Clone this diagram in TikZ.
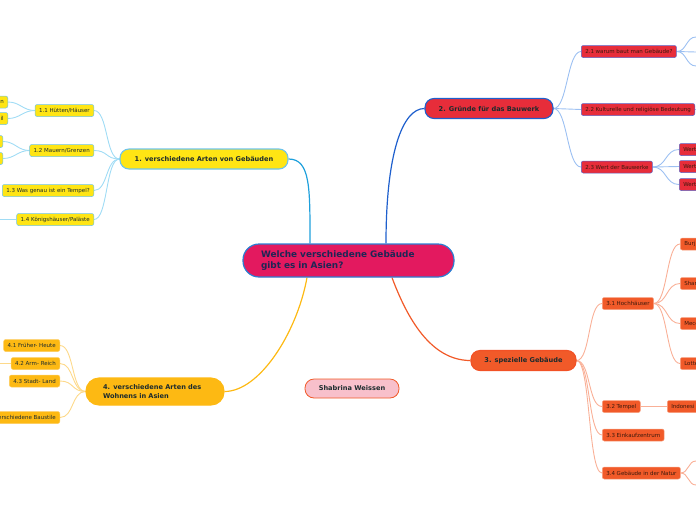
\documentclass[tikz,border=0pt]{standalone}
\usepackage{fontspec}
\setmainfont{DejaVu Sans}
\usetikzlibrary{calc, backgrounds}
\definecolor{rootpink}{RGB}{227,25,95}
\definecolor{rootline}{RGB}{45,125,210}
\definecolor{rootink}{RGB}{30,38,85}
\definecolor{yel}{RGB}{255,229,20}
\definecolor{yelline}{RGB}{110,196,234}
\definecolor{redtopic}{RGB}{231,45,58}
\definecolor{redline}{RGB}{30,95,205}
\definecolor{redsub}{RGB}{90,100,200}
\definecolor{orng}{RGB}{241,90,41}
\definecolor{orngsub}{RGB}{248,160,128}
\definecolor{amber}{RGB}{253,185,19}
\definecolor{ambersub}{RGB}{253,205,95}
\definecolor{pinkbox}{RGB}{248,192,203}
\definecolor{darkink}{RGB}{28,43,45}
\definecolor{brownink}{RGB}{60,25,12}
\definecolor{lblue}{RGB}{160,220,245}
\definecolor{lblue2}{RGB}{156,192,242}
\definecolor{lorng}{RGB}{249,176,151}
\definecolor{lamber}{RGB}{253,217,138}
\definecolor{midblue}{RGB}{30,160,220}

\begin{document}
\begin{tikzpicture}[x=1pt, y=-1pt,
  root/.style={draw=rootline, line width=1.2pt, fill=rootpink, rounded corners=16pt,
    minimum height=33pt, inner xsep=18pt, text width=175pt, align=left,
    text=rootink, font=\fontsize{8.9}{10.8}\selectfont\bfseries},
  topic/.style={line width=1.1pt, rounded corners=9pt, minimum height=20pt,
    font=\fontsize{6.6}{8.2}\selectfont\bfseries, text=darkink},
  sub/.style={line width=0.5pt, rounded corners=2pt, minimum height=12pt, inner xsep=4pt,
    inner ysep=1pt, font=\fontsize{5.5}{6.5}\selectfont},
  sub1/.style={sub, draw=yelline, fill=yel, text=darkink},
  sub2/.style={sub, draw=redsub, fill=redtopic, text=brownink},
  sub3/.style={sub, draw=orngsub, fill=orng, text=brownink},
  sub4/.style={sub, draw=ambersub, fill=amber, text=darkink},
  br1/.style={midblue, line width=1.2pt},
  br2/.style={redline, line width=1.2pt},
  br3/.style={orng, line width=1.2pt},
  br4/.style={amber, line width=1.2pt},
  twig1/.style={lblue, line width=0.9pt},
  twig2/.style={lblue2, line width=0.9pt},
  twig3/.style={lorng, line width=0.9pt},
  twig4/.style={lamber, line width=0.9pt}]
  \useasboundingbox (0,0) rectangle (696,520);
  \clip (0,0) rectangle (696,520);

  % centre and main topics
  \node[root] (root) at (348.5,260.5) {Welche verschiedene Gebäude\\gibt es in Asien?};
  \node[topic, draw=yelline, fill=yel, minimum width=168pt] (t1) at (204,159) {1. verschiedene Arten von Gebäuden};
  \node[topic, draw=redline, fill=redtopic, minimum width=128pt] (t2) at (489,108.5) {2. Gründe für das Bauwerk};
  \node[topic, draw=orng!90!red, fill=orng, minimum width=105pt] (t3) at (523.5,360.5) {3. spezielle Gebäude};
  \node[topic, draw=amber, fill=amber, rounded corners=13pt, minimum height=27pt, inner xsep=17pt,
    text width=104pt, align=left] (t4) at (155,391.5) {4. verschiedene Arten des\\Wohnens in Asien};
  \node[topic, draw=orng, fill=pinkbox, line width=0.8pt, minimum width=94pt, minimum height=19pt] (sw) at (352,388.5) {Shabrina Weissen};

  % 1
  \node[sub1, anchor=east] (s11) at (94,110.5) {1.1 Hütten/Häuser};
  \node[sub1, anchor=east] (s12) at (94,150.5) {1.2 Mauern/Grenzen};
  \node[sub1, anchor=east] (s13) at (94,190.5) {1.3 Was genau ist ein Tempel?};
  \node[sub1, anchor=east] (s14) at (94,219.5) {1.4 Königshäuser/Paläste};
  \node[sub1, anchor=east, text width=26pt, align=right] (s111) at (8,102) {en};
  \node[sub1, anchor=east, text width=26pt, align=right] (s112) at (8,118.5) {il};
  \node[sub1, anchor=east, text width=26pt] (s121) at (3,141.5) {};
  \node[sub1, anchor=east, text width=26pt] (s122) at (3,158.5) {};
  \coordinate (e14) at (0,219.5);

  % 2
  \node[sub2, anchor=west] (s21) at (581,51.5) {2.1 warum baut man Gebäude?};
  \node[sub2, anchor=west] (s22) at (581,109.5) {2.2 Kulturelle und religiöse Bedeutung};
  \node[sub2, anchor=west] (s23) at (581,167) {2.3 Wert der Bauwerke};
  \node[sub2, anchor=west, text width=30pt, align=left] (s231) at (679,149.5) {Wert};
  \node[sub2, anchor=west, text width=30pt, align=left] (s232) at (679,166.5) {Wert};
  \node[sub2, anchor=west, text width=30pt, align=left] (s233) at (679,184.5) {Wert};
  \coordinate (e211) at (696,37);
  \coordinate (e212) at (696,52);
  \coordinate (e213) at (696,66);
  \coordinate (e22) at (696,109.5);

  % 3
  \node[sub3, anchor=west] (s31) at (602,303.5) {3.1 Hochhäuser};
  \node[sub3, anchor=west] (s32) at (602,406.5) {3.2 Tempel};
  \node[sub3, anchor=west] (s33) at (602,435) {3.3 Einkaufzentrum};
  \node[sub3, anchor=west] (s34) at (602,473) {3.4 Gebäude in der Natur};
  \node[sub3, anchor=west, text width=30pt, align=left] (s311) at (680,244) {Burj};
  \node[sub3, anchor=west, text width=30pt, align=left] (s312) at (680,283.5) {Shan};
  \node[sub3, anchor=west, text width=30pt, align=left] (s313) at (680,323.5) {Mecc};
  \node[sub3, anchor=west, text width=30pt, align=left] (s314) at (680,363.5) {Lotte};
  \node[sub3, anchor=west, text width=40pt, align=left] (s321) at (667,406.5) {Indonesi};
  \coordinate (e341) at (696,461);
  \coordinate (e342) at (696,485);

  % 4
  \node[sub4, anchor=east] (s41) at (60,345.5) {4.1 Früher- Heute};
  \node[sub4, anchor=east] (s42) at (60,363.5) {4.2 Arm- Reich};
  \node[sub4, anchor=east] (s43) at (60,381) {4.3 Stadt- Land};
  \node[sub4, anchor=east] (s44) at (60,417.5) {4.4 verschiedene Baustile};
  \coordinate (e42) at (0,363.5);

  \begin{scope}[on background layer]
    \draw[br1] ($(root.north)+(-38.5,0)$) .. controls +(0,-55) and +(22,0) .. (t1.east);
    \draw[br2] ($(root.north)+(37.5,0)$) .. controls +(0,-90) and +(-22,0) .. (t2.west);
    \draw[br3] ($(root.south)+(43.5,0)$) .. controls +(15,40) and +(-40,0) .. (t3.west);
    \draw[br4] ($(root.south)+(-41.5,0)$) .. controls +(-10,55) and +(35,0) .. (t4.east);

    \foreach \s in {s11,s12,s13,s14}
      \draw[twig1] (t1.west) .. controls +(-14,0) and +(14,0) .. (\s.east);
    \draw[twig1] (s11.west) .. controls +(-12,0) and +(12,0) .. (s111.east);
    \draw[twig1] (s11.west) .. controls +(-12,0) and +(12,0) .. (s112.east);
    \draw[twig1] (s12.west) .. controls +(-12,0) and +(12,0) .. (s121.east);
    \draw[twig1] (s12.west) .. controls +(-12,0) and +(12,0) .. (s122.east);
    \draw[twig1] (s14.west) -- (e14);

    \foreach \s in {s21,s22,s23}
      \draw[twig2] (t2.east) .. controls +(14,0) and +(-14,0) .. (\s.west);
    \foreach \s in {e211,e212,e213}
      \draw[twig2] (s21.east) .. controls +(10,0) and +(-10,0) .. (\s);
    \draw[twig2] (s22.east) -- (e22);
    \foreach \s in {s231,s232,s233}
      \draw[twig2] (s23.east) .. controls +(14,0) and +(-14,0) .. (\s.west);

    \foreach \s in {s31,s32,s33,s34}
      \draw[twig3] (t3.east) .. controls +(14,0) and +(-14,0) .. (\s.west);
    \foreach \s in {s311,s312,s313,s314}
      \draw[twig3] (s31.east) .. controls +(14,0) and +(-14,0) .. (\s.west);
    \draw[twig3] (s32.east) -- (s321.west);
    \foreach \s in {e341,e342}
      \draw[twig3] (s34.east) .. controls +(8,0) and +(-8,0) .. (\s);

    \foreach \s in {s41,s42,s43,s44}
      \draw[twig4] (t4.west) .. controls +(-14,0) and +(14,0) .. (\s.east);
    \draw[twig4] (s42.west) -- (e42);
  \end{scope}
\end{tikzpicture}
\end{document}
